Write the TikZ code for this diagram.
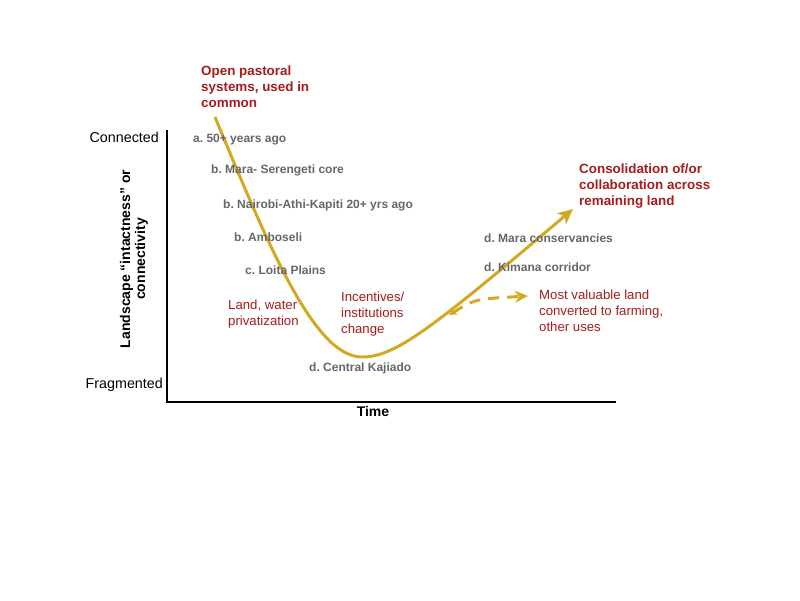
\documentclass[tikz,border=0pt]{standalone}
\usepackage{fontspec}
\setmainfont{Liberation Sans}
\usepackage{xcolor}
\usepackage{tikz}
\usetikzlibrary{arrows.meta, positioning}

\definecolor{curvegold}{HTML}{D4A922}
\definecolor{notered}{HTML}{A61C1C}
\definecolor{stagegray}{HTML}{666666}

\frenchspacing

\tikzset{
    stage/.style={anchor=base west, inner sep=0pt, text=stagegray, font=\fontsize{12}{14}\selectfont\bfseries},
    phase/.style={anchor=north west, inner sep=0pt, align=left, text=notered, font=\fontsize{13.4}{16}\selectfont\bfseries},
    note/.style={anchor=north west, inner sep=0pt, align=left, text=notered, font=\fontsize{13.2}{16}\selectfont},
    axistext/.style={inner sep=0pt, font=\fontsize{14.3}{17}\selectfont},
    axistitle/.style={inner sep=0pt, align=center, font=\fontsize{14}{15}\selectfont\bfseries}
}

\begin{document}
\begin{tikzpicture}[x=1pt, y=-1pt, >=Stealth]
    \useasboundingbox (0,0) rectangle (800,600);

    % =================================================================
    % AXES
    % =================================================================
    \coordinate (Ytop) at (167,130);
    \coordinate (O) at (167,402);
    \coordinate (Xend) at (616,402);
    \draw[line width=1.3pt] (Ytop) -- (O) -- (Xend);

    \node[axistext, anchor=east] (connected) at (159,137) {Connected};
    \node[axistext, anchor=east] (fragmented) at (163,385) {Fragmented};
    \node[axistitle, rotate=90] (intact) at (134,259) {Landscape “intactness” or\\connectivity};
    \node[axistitle] (time) at (373,411) {Time};

    % =================================================================
    % TRAJECTORY CURVE
    % =================================================================
    \coordinate (start) at (215,117);
    \coordinate (low) at (362,357);
    \coordinate (tip) at (573,209);
    \draw[curvegold, line width=3pt, -{Stealth[length=15pt, width=14pt, inset=4pt]}]
        (start) .. controls (270,250) and (315,357) .. (low)
                .. controls (395,357) and (430,330) .. (tip);

    % Branch to farming (dashed)
    \coordinate (fork) at (449,315);
    \coordinate (farm) at (528,296);
    \draw[curvegold, line width=3pt, dash pattern=on 11pt off 8pt,
          {Stealth[length=8pt, width=8pt]}-{Stealth[length=13pt, width=12pt, inset=4pt]}]
        (fork) .. controls (475,299) .. (farm);

    % =================================================================
    % STAGES ALONG THE CURVE (baselines)
    % =================================================================
    \node[stage] (fifty) at (193,142) {a. 50+ years ago};
    \node[stage] (serengeti) at (211,173) {b. Mara- Serengeti core};
    \node[stage] (nairobi) at (223,208) {b. Nairobi-Athi-Kapiti 20+ yrs ago};
    \node[stage] (amboseli) at (234,241) {b. Amboseli};
    \node[stage] (loita) at (245,274) {c. Loita Plains};
    \node[stage] (kajiado) at (309,371) {d. Central Kajiado};
    \node[stage] (conserv) at (484,242) {d. Mara conservancies};
    \node[stage] (kimana) at (484,271) {d. Kimana corridor};

    % =================================================================
    % PHASES AND DRIVERS
    % =================================================================
    \node[phase] (open) at (201,65.5) {Open pastoral\\systems, used in\\common};
    \node[phase] (consol) at (579,164) {Consolidation of/or\\collaboration across\\remaining land};
    \node[note] (privat) at (228,300) {Land, water\\privatization};
    \node[note] (incent) at (341,292) {Incentives/\\institutions\\change};
    \node[note] (farming) at (539,290) {Most valuable land\\converted to farming,\\other uses};

\end{tikzpicture}
\end{document}
